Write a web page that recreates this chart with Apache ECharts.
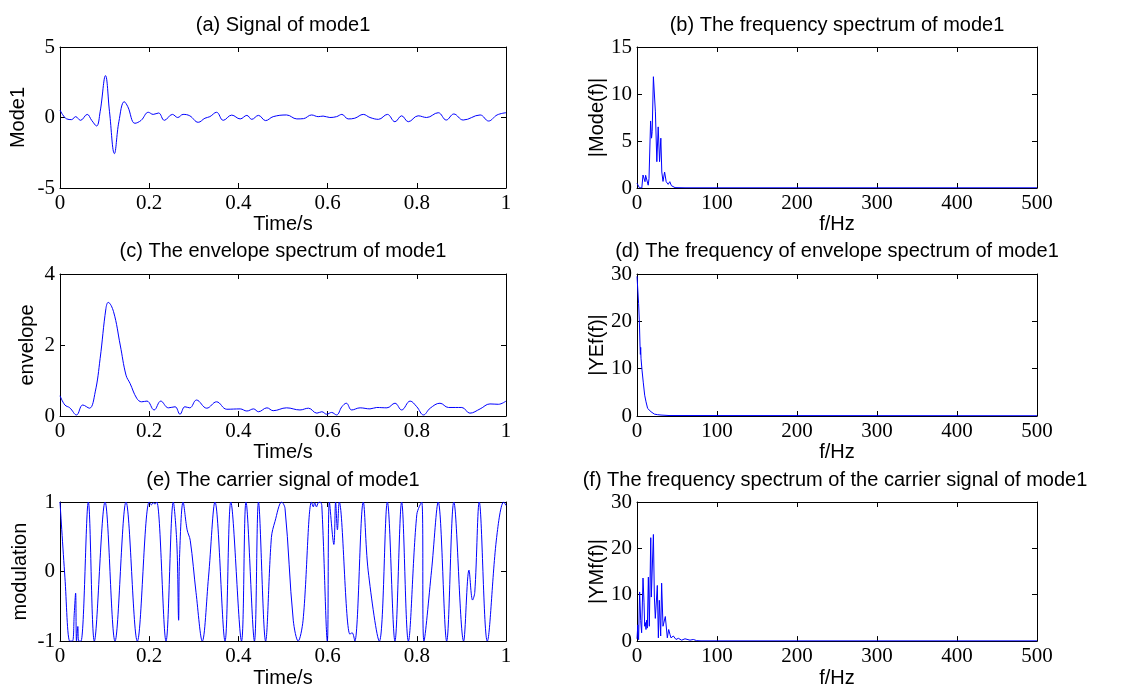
<!DOCTYPE html>
<html>
<head>
<meta charset="utf-8">
<script src="https://cdn.jsdelivr.net/npm/echarts@6/dist/echarts.min.js"></script>
<style>html,body{margin:0;padding:0;background:#fff}#c{width:1143px;height:689px}</style>
</head>
<body>
<div id="c"></div>
<script>
// (a) Signal of mode1
const aTime = [0,0.006,0.015,0.026,0.035,0.046,0.061,0.071,0.082,0.090,0.102,0.111,0.122,0.132,0.144,0.152,0.168,0.182,0.198,0.209,0.221,0.234,0.252,0.264,0.276,0.291,0.310,0.325,0.336,0.351,0.366,0.385,0.404,0.419,0.430,0.445,0.461,0.478,0.508,0.531,0.546,0.564,0.579,0.590,0.605,0.620,0.632,0.646,0.661,0.680,0.695,0.714,0.734,0.751,0.766,0.781,0.803,0.822,0.848,0.866,0.883,0.904,0.942,0.961,0.980,1.0];
const aValue = [0.53,0.2,-0.1,-0.15,0.06,-0.2,0.22,-0.2,-0.6,0.41,2.97,0.41,-2.56,-0.3,1.12,0.77,-0.41,-0.2,0.37,0.22,0.32,-0.2,0.22,0.0,0.22,0.12,-0.34,-0.05,0.06,0.37,-0.2,0.17,-0.1,0.15,-0.13,0.15,-0.22,0.06,0.18,-0.1,-0.08,0.18,0.06,0.1,0.0,0.06,0.22,-0.1,-0.05,0.22,0.0,-0.13,0.22,-0.3,0.12,-0.3,0.12,0.0,0.34,-0.18,0.25,-0.18,0.18,-0.25,0.18,0.34];

// (b) frequency spectrum of mode1
const bFreq = [0,0.8,3,6,7.5,9,10,10.8,12.5,14,15,17,18.2,19,20.5,23,24.8,26.5,28.2,29.8,31,32.5,34.5,36.5,39,41,43,45,47.5,60,500];
const bValue = [0.5,0.32,0.03,0.0,1.38,1.2,0.67,1.35,1.38,0.3,1.0,7.13,5.3,6.0,11.84,8.1,2.8,6.5,2.8,5.3,1.7,0.7,1.7,0.67,0.39,0.67,0.25,0.39,0.04,0.02,0.02];

// (c) envelope of mode1
const cTime = [0,0.011,0.022,0.037,0.051,0.066,0.079,0.090,0.103,0.108,0.120,0.135,0.148,0.157,0.172,0.183,0.195,0.211,0.226,0.243,0.258,0.269,0.280,0.291,0.306,0.329,0.351,0.374,0.404,0.419,0.434,0.445,0.464,0.478,0.508,0.538,0.557,0.576,0.587,0.598,0.609,0.620,0.632,0.642,0.654,0.673,0.695,0.710,0.733,0.751,0.766,0.785,0.800,0.815,0.830,0.852,0.871,0.901,0.919,0.942,0.964,0.983,1.0];
const cValue = [0.57,0.31,0.23,0.03,0.31,0.22,0.68,1.62,3.03,3.2,2.94,2.0,1.15,0.92,0.5,0.4,0.42,0.17,0.42,0.23,0.26,0.05,0.26,0.23,0.45,0.22,0.4,0.19,0.2,0.14,0.2,0.12,0.23,0.15,0.23,0.17,0.22,0.08,0.12,0.05,0.1,0.03,0.26,0.36,0.17,0.23,0.2,0.24,0.23,0.36,0.17,0.42,0.26,0.03,0.22,0.36,0.24,0.24,0.08,0.2,0.34,0.33,0.42];

// (d) frequency of envelope spectrum
const dFreq = [0,0.8,2,2.9,3.75,4.2,4.6,5,6.25,7.9,9.6,11.25,13.3,15.4,17.5,19.6,21.7,23.75,25.8,30,40,500];
const dValue = [29.5,29.4,23.8,20.3,15.0,13.0,14.5,12.2,9.7,7.0,4.4,3.0,1.6,1.3,0.9,0.9,0.4,0.7,0.28,0.2,0.1,0.05];

// (e) carrier signal of mode1
const eTime = [0,0.011,0.022,0.028,0.032,0.035,0.037,0.040,0.042,0.047,0.0635,0.077,0.101,0.1233,0.148,0.1734,0.200,0.205,0.209,0.213,0.217,0.2377,0.254,0.262,0.266,0.268,0.276,0.285,0.292,0.305,0.319,0.333,0.3475,0.370,0.383,0.407,0.417,0.436,0.445,0.461,0.474,0.482,0.497,0.5045,0.523,0.534,0.545,0.564,0.568,0.571,0.575,0.579,0.583,0.587,0.5994,0.604,0.614,0.618,0.622,0.626,0.650,0.655,0.661,0.680,0.691,0.716,0.734,0.751,0.766,0.781,0.800,0.811,0.816,0.833,0.848,0.867,0.883,0.905,0.917,0.925,0.930,0.940,0.958,0.979,0.995,1.0];
const eValue = [1.0,-0.08,-1.0,-1.0,-0.6,-0.31,-1.0,-0.79,-1.0,-1.0,1.0,-1.0,1.0,-1.0,1.0,-1.0,1.0,0.96,0.99,0.97,1.0,-1.0,1.0,0.4,-0.7,0.2,1.0,0.6,0.45,-0.3,-1.0,-0.08,1.0,-1.0,1.0,-1.0,1.0,-1.0,1.0,-1.0,0.49,0.72,1.0,0.91,-0.7,-1.0,-0.7,1.0,0.93,0.99,0.93,0.99,1.0,0.95,-1.0,1.0,0.39,1.0,0.6,1.0,-0.9,-0.88,-1.0,1.0,0.01,-1.0,1.0,-1.0,1.0,-1.0,0.82,1.0,-1.0,0.01,1.0,-1.0,1.0,-1.0,0.02,-0.41,-0.3,1.0,-1.0,0.49,1.0,0.95];

// (f) frequency spectrum of carrier signal
const fFreq = [0,1,2,3.3,4.6,5.8,7.5,8.75,9.6,10.4,11.25,12,12.9,14.2,15.4,17.2,17.9,20.5,21.7,22.9,25.4,26.7,27.9,29.6,30.8,32.5,35.4,37.9,39.6,41.25,42.5,45.4,48.75,51.7,55.8,60,66.25,70.4,74.6,80,500];
const fValue = [0.5,3.5,0.3,10.6,4.4,1.8,13.6,8.4,3.2,4.0,2.5,4.5,2.8,13.8,3.2,22.3,9.5,23.0,9.5,4.9,12.0,0.7,8.8,1.1,12.5,3.2,5.3,0.7,2.5,1.4,0.7,1.1,0.35,0.6,0.2,0.5,0.2,0.35,0.1,0.05,0.05];

const titles = [
  '(a) Signal of mode1',
  '(b) The frequency spectrum of mode1',
  '(c) The envelope spectrum of mode1',
  '(d) The frequency of envelope spectrum of mode1',
  '(e) The carrier signal of mode1',
  '(f) The frequency spectrum of the carrier signal of mode1'
];
const yNames = ['Mode1','|Mode(f)|','envelope','|YEf(f)|','modulation','|YMf(f)|'];
const xNames = ['Time/s','f/Hz','Time/s','f/Hz','Time/s','f/Hz'];
const yRanges = [[-5,5,5],[0,15,5],[0,4,2],[0,30,10],[-1,1,1],[0,30,10]];
const xRanges = [[0,1,0.2],[0,500,100],[0,1,0.2],[0,500,100],[0,1,0.2],[0,500,100]];
const yNameGaps = [32,30,23,30,30,30];

const gridsPx = [
  {left:60, top:47, width:446, height:141},
  {left:637, top:47, width:400, height:141},
  {left:60, top:274, width:446, height:142},
  {left:637, top:274, width:400, height:142},
  {left:60, top:502, width:446, height:141},
  {left:637, top:502, width:400, height:141}
];
const titlePos = [[283,25],[837,25],[283,251],[837,251],[283,480],[835,480]];

const seriesData = [
  [aTime,aValue],[bFreq,bValue],[cTime,cValue],[dFreq,dValue],[eTime,eValue],[fFreq,fValue]
];
const smoothFlags = [0.4,false,0.4,false,0.35,false];

const labelFont = {fontFamily:'Liberation Serif', fontSize:21, color:'#000'};
const nameFont = {fontFamily:'Liberation Sans', fontSize:20, color:'#000'};
const lineStyle = {color:'#000', width:1};

const xAxes = [], yAxes = [], series = [];
gridsPx.forEach((g,i)=>{
  const [x0,x1,xi] = xRanges[i];
  const [y0,y1,yi] = yRanges[i];
  xAxes.push({
    gridIndex:i, type:'value', min:x0, max:x1, interval:xi, position:'bottom',
    name:xNames[i], nameLocation:'middle', nameGap:24, nameTextStyle:nameFont,
    axisLine:{show:true, onZero:false, lineStyle},
    axisTick:{show:true, inside:true, length:5, lineStyle},
    axisLabel:Object.assign({margin:5, showMinLabel:true, showMaxLabel:true, hideOverlap:false}, labelFont),
    splitLine:{show:false}
  });
  xAxes.push({
    gridIndex:i, type:'value', min:x0, max:x1, interval:xi, position:'top',
    axisLine:{show:true, onZero:false, lineStyle},
    axisTick:{show:true, inside:true, length:5, lineStyle},
    axisLabel:{show:false}, splitLine:{show:false}
  });
  yAxes.push({
    gridIndex:i, type:'value', min:y0, max:y1, interval:yi, position:'left',
    name:yNames[i], nameLocation:'middle', nameRotate:90, nameGap:yNameGaps[i], nameTextStyle:nameFont,
    axisLine:{show:true, onZero:false, lineStyle},
    axisTick:{show:true, inside:true, length:5, lineStyle},
    axisLabel:Object.assign({margin:5, showMinLabel:true, showMaxLabel:true, hideOverlap:false}, labelFont),
    splitLine:{show:false}
  });
  yAxes.push({
    gridIndex:i, type:'value', min:y0, max:y1, interval:yi, position:'right',
    axisLine:{show:true, onZero:false, lineStyle},
    axisTick:{show:true, inside:true, length:5, lineStyle},
    axisLabel:{show:false}, splitLine:{show:false}
  });
  const [xs, ys] = seriesData[i];
  series.push({
    type:'line', xAxisIndex:2*i, yAxisIndex:2*i,
    data: xs.map((x,k)=>[x, ys[k]]),
    showSymbol:false, symbol:'none', smooth:smoothFlags[i],
    lineStyle:{color:'#0000ff', width:1}, clip:true, animation:false
  });
});

const chart = echarts.init(document.getElementById('c'), null, {renderer:'canvas'});
chart.setOption({
  backgroundColor:'#fff',
  animation:false,
  grid: gridsPx.map(g=>Object.assign({containLabel:false}, g)),
  xAxis:xAxes, yAxis:yAxes, series,
  graphic: titles.map((t,i)=>({
    type:'text', x:titlePos[i][0], y:titlePos[i][1],
    style:{text:t, fill:'#000', font:'20px "Liberation Sans"', align:'center', verticalAlign:'middle', textAlign:'center', textVerticalAlign:'middle'}
  }))
});
</script>
</body>
</html>
